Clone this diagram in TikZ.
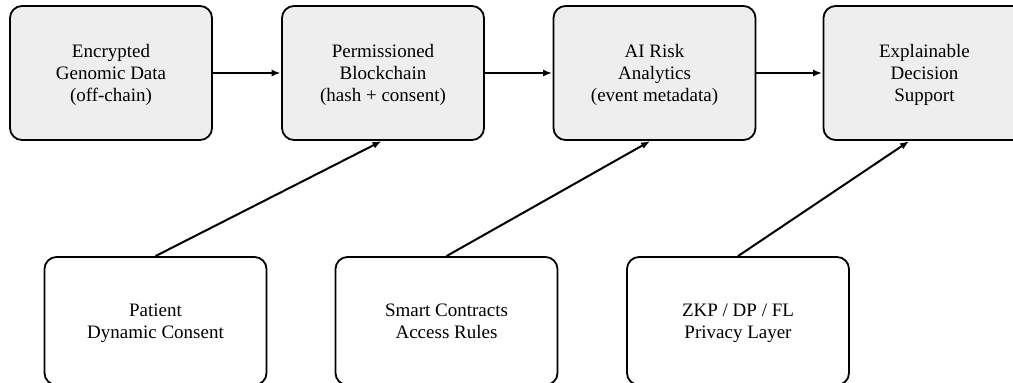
\documentclass[tikz,border=0pt]{standalone}
\usepackage{fontspec}
\setmainfont{Liberation Serif}
\usetikzlibrary{arrows.meta}
\definecolor{boxfill}{HTML}{EEEEEE}
\newcommand\topstrut{\rule[-6.6pt]{0pt}{27pt}}
\tikzset{
  topbox/.style={draw=black, line width=1.8pt, fill=boxfill, rounded corners=12pt,
    minimum width=202pt, minimum height=134pt, align=center, inner sep=0pt,
    font=\fontsize{19}{22}\selectfont},
  botbox/.style={draw=black, line width=1.8pt, fill=white, rounded corners=12pt,
    minimum width=222pt, minimum height=128pt, align=center, inner sep=0pt,
    font=\fontsize{19}{22}\selectfont},
  flow/.style={line width=2pt, -{Latex[length=9pt,width=7pt]}, shorten >=0.5pt}
}
\begin{document}
\begin{tikzpicture}[x=1pt,y=-1pt]
\useasboundingbox (0,0) rectangle (1013,383);
\node[topbox] (b1) at (111,73) {\topstrut Encrypted\\\strut Genomic Data\\\strut (off-chain)};
\node[topbox] (b2) at (383,73) {\topstrut Permissioned\\\strut Blockchain\\\strut (hash + consent)};
\node[topbox] (b3) at (654.5,73) {\topstrut AI Risk\\\strut Analytics\\\strut (event metadata)};
\node[topbox] (b4) at (924.5,73) {\topstrut Explainable\\\strut Decision\\\strut Support};
\node[botbox] (p1) at (155.5,321) {\topstrut Patient\\\strut Dynamic Consent};
\node[botbox] (p2) at (446.5,321) {\topstrut Smart Contracts\\\strut Access Rules};
\node[botbox] (p3) at (738,321) {\topstrut ZKP / DP / FL\\\strut Privacy Layer};
\draw[flow] (b1.east) -- (b2.west);
\draw[flow] (b2.east) -- (b3.west);
\draw[flow] (b3.east) -- (b4.west);
\draw[flow] (p1.north) -- ([xshift=-1pt]b2.south);
\draw[flow] (p2.north) -- ([xshift=-4pt]b3.south);
\draw[flow] (p3.north) -- ([xshift=-15pt]b4.south);
\end{tikzpicture}
\end{document}
